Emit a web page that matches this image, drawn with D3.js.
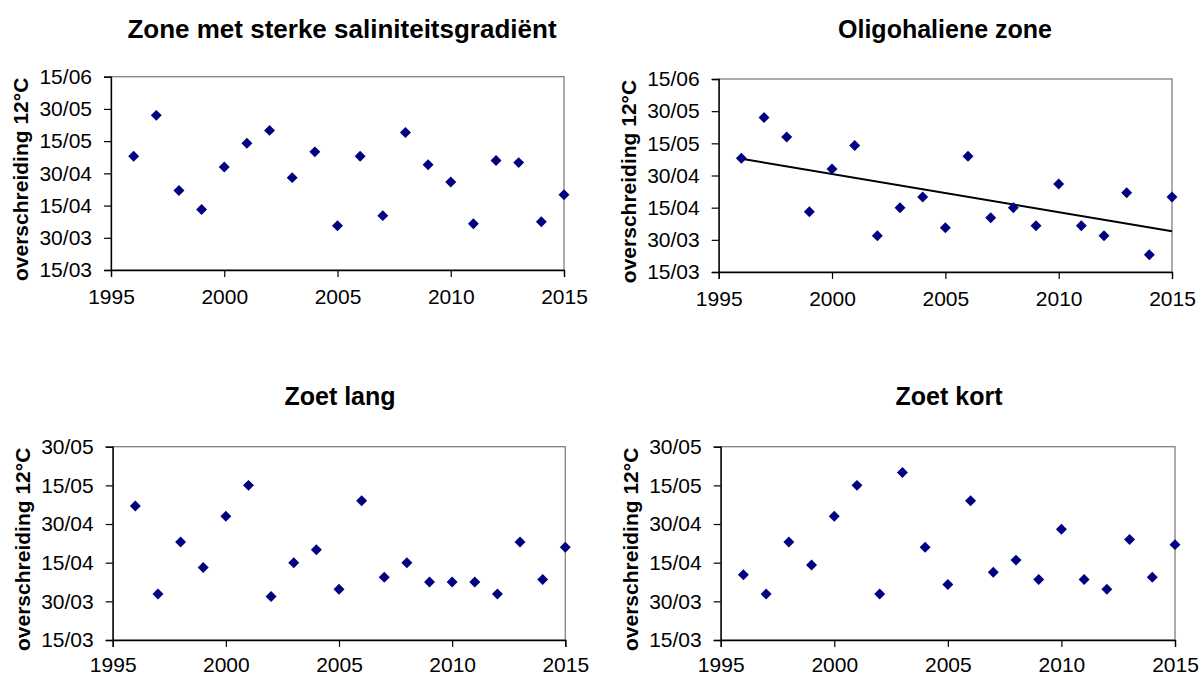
<!DOCTYPE html>
<html>
<head>
<meta charset="utf-8">
<script src="https://cdn.jsdelivr.net/npm/d3@7"></script>
<style>
  html, body { margin: 0; padding: 0; background: #ffffff; }
  svg { display: block; font-family: "Liberation Sans", Arial, sans-serif; }
</style>
</head>
<body>
<svg id="chart" width="1202" height="675"></svg>
<script>
// Years of observation
const years = [1996, 1997, 1998, 1999, 2000, 2001, 2002, 2003, 2004, 2005,
               2006, 2007, 2008, 2009, 2010, 2011, 2012, 2013, 2014, 2015];

// Date (dd/mm) on which the water temperature first exceeds 12 °C
const zoneSterk = ["08/05", "27/05", "22/04", "13/04", "03/05", "14/05", "20/05", "28/04", "10/05", "05/04",
                   "08/05", "10/04", "19/05", "04/05", "26/04", "06/04", "06/05", "05/05", "07/04", "20/04"];
const oligohalien = ["08/05", "27/05", "18/05", "13/04", "03/05", "14/05", "01/04", "15/04", "20/04", "05/04",
                     "09/05", "10/04", "15/04", "06/04", "26/04", "06/04", "01/04", "22/04", "23/03", "20/04"];
const zoetLang = ["07/05", "02/04", "23/04", "13/04", "03/05", "15/05", "01/04", "15/04", "20/04", "04/04",
                  "09/05", "09/04", "15/04", "07/04", "07/04", "07/04", "02/04", "23/04", "08/04", "21/04"];
const zoetKort = ["10/04", "02/04", "23/04", "14/04", "03/05", "15/05", "02/04", "20/05", "21/04", "06/04",
                  "09/05", "11/04", "16/04", "08/04", "28/04", "08/04", "04/04", "24/04", "09/04", "22/04"];

// Axis tick labels
const dateTicksTop = ["15/03", "30/03", "15/04", "30/04", "15/05", "30/05", "15/06"];
const dateTicksBottom = ["15/03", "30/03", "15/04", "30/04", "15/05", "30/05"];
const yearTicks = [1995, 2000, 2005, 2010, 2015];
const yearDomain = [1995, 2015];

const titles = ["Zone met sterke saliniteitsgradiënt", "Oligohaliene zone", "Zoet lang", "Zoet kort"];
const yTitle = "overschreiding 12°C";

// day of year (non-leap) for a "dd/mm" string
const monthStart = [0, 31, 59, 90, 120, 151, 181, 212, 243, 273, 304, 334];
function dayOfYear(s) {
  const [d, m] = s.split("/").map(Number);
  return monthStart[m - 1] + d;
}

const panels = [
  { title: titles[0], values: zoneSterk, ticks: dateTicksTop, trend: false, titleSize: 26,
    left: 111, right: 564, top: 76.7, bottom: 270, titleX: 342, titleY: 38, xLabelGap: 12 },
  { title: titles[1], values: oligohalien, ticks: dateTicksTop, trend: true, titleSize: 25,
    left: 718.7, right: 1172, top: 79, bottom: 272, titleX: 945, titleY: 38, xLabelGap: 12 },
  { title: titles[2], values: zoetLang, ticks: dateTicksBottom, trend: false, titleSize: 25,
    left: 112.7, right: 565.3, top: 446.7, bottom: 640, titleX: 340, titleY: 405, xLabelGap: 10 },
  { title: titles[3], values: zoetKort, ticks: dateTicksBottom, trend: false, titleSize: 25,
    left: 720.7, right: 1175, top: 446.7, bottom: 640, titleX: 949, titleY: 405, xLabelGap: 10 }
];

const svg = d3.select("#chart");
const navy = "#000080";
const diamond = d3.symbol().type(d3.symbolSquare).size(60);

panels.forEach(p => {
  const g = svg.append("g");

  const x = d3.scaleLinear().domain(yearDomain).range([p.left, p.right]);
  // evenly spaced date ticks: piecewise-linear scale through the tick dates
  const tickDays = p.ticks.map(dayOfYear);
  const step = (p.bottom - p.top) / (tickDays.length - 1);
  const y = d3.scaleLinear()
    .domain(tickDays)
    .range(tickDays.map((_, i) => p.bottom - i * step));

  // plot area frame
  g.append("rect")
    .attr("x", p.left).attr("y", p.top)
    .attr("width", p.right - p.left).attr("height", p.bottom - p.top)
    .attr("fill", "none").attr("stroke", "#808080").attr("stroke-width", 1.3);

  // x axis
  const xAxis = g.append("g")
    .attr("transform", `translate(0,${p.bottom})`)
    .call(d3.axisBottom(x).tickValues(yearTicks).tickFormat(d3.format("d"))
      .tickSizeOuter(0).tickSize(7).tickPadding(p.xLabelGap));
  xAxis.select(".domain").attr("stroke", "#000").attr("stroke-width", 1.3);
  xAxis.selectAll(".tick line").attr("stroke", "#000").attr("stroke-width", 1.2);
  xAxis.selectAll("text").attr("font-size", 21).attr("fill", "#000")
    .attr("font-family", "Liberation Sans, Arial, sans-serif");

  // y axis
  const yAxis = g.append("g")
    .attr("transform", `translate(${p.left},0)`)
    .call(d3.axisLeft(y).tickValues(tickDays).tickFormat((d, i) => p.ticks[i])
      .tickSizeOuter(0).tickSize(7).tickPadding(12));
  yAxis.select(".domain").attr("stroke", "#000").attr("stroke-width", 1.3);
  yAxis.selectAll(".tick line").attr("stroke", "#000").attr("stroke-width", 1.2);
  yAxis.selectAll("text").attr("font-size", 21).attr("fill", "#000")
    .attr("font-family", "Liberation Sans, Arial, sans-serif");

  // y axis title
  const yMid = (p.top + p.bottom) / 2 + 6;
  g.append("text")
    .attr("transform", `translate(${p.left - 83},${yMid}) rotate(-90)`)
    .attr("text-anchor", "middle")
    .attr("font-size", 21).attr("font-weight", "bold").attr("fill", "#000")
    .text(yTitle);

  // chart title
  g.append("text")
    .attr("x", p.titleX).attr("y", p.titleY)
    .attr("text-anchor", "middle")
    .attr("font-size", p.titleSize).attr("font-weight", "bold").attr("fill", "#000")
    .text(p.title);

  const pts = years.map((yr, i) => ({ year: yr, day: dayOfYear(p.values[i]) }));

  // least-squares trend line
  if (p.trend) {
    const mx = d3.mean(pts, d => d.year);
    const my = d3.mean(pts, d => d.day);
    const sxy = d3.sum(pts, d => (d.year - mx) * (d.day - my));
    const sxx = d3.sum(pts, d => (d.year - mx) ** 2);
    const slope = sxy / sxx;
    const ends = d3.extent(years).map(yr => ({ year: yr, day: my + slope * (yr - mx) }));
    g.append("path")
      .datum(ends)
      .attr("d", d3.line().x(d => x(d.year)).y(d => y(d.day)))
      .attr("fill", "none").attr("stroke", "#000").attr("stroke-width", 2);
  }

  // markers
  g.selectAll("path.pt")
    .data(pts)
    .join("path")
    .attr("class", "pt")
    .attr("d", diamond)
    .attr("transform", d => `translate(${x(d.year)},${y(d.day)}) rotate(45)`)
    .attr("fill", navy);
});
</script>
</body>
</html>
